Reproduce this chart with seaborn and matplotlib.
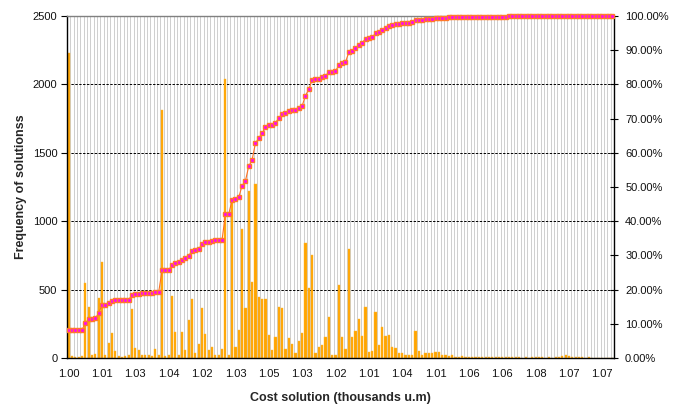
import numpy as np
import pandas as pd
import matplotlib
matplotlib.use("Agg")
import matplotlib.pyplot as plt
import seaborn as sns

# frequency of solutions per cost class
counts = [
    2230, 15, 10, 10, 15, 550, 375, 20, 30, 436,
    704, 20, 112, 185, 54, 15, 10, 15, 20, 358,
    73, 58, 25, 20, 20, 15, 66, 20, 1810, 15,
    20, 453, 193, 20, 193, 58, 278, 429, 40, 102,
    363, 175, 58, 78, 20, 20, 66, 2040, 20, 1150,
    80, 205, 940, 363, 1220, 558, 1272, 448, 429, 429,
    170, 58, 156, 370, 366, 68, 144, 102, 34, 127,
    185, 843, 512, 751, 39, 78, 93, 156, 302, 20,
    20, 531, 156, 66, 794, 151, 197, 287, 161, 375,
    41, 54, 334, 93, 229, 161, 170, 78, 73, 39,
    34, 22, 20, 20, 197, 54, 20, 34, 39, 34,
    42, 42, 25, 20, 15, 20, 10, 10, 15, 8,
    8, 6, 5, 8, 5, 4, 6, 5, 4, 5,
    6, 8, 10, 5, 4, 5, 3, 4, 3, 5,
    4, 6, 4, 3, 4, 3, 4, 6, 15, 25,
    18, 6, 4, 10, 5, 3, 4, 3, 2, 3,
    2, 3, 2, 2,
]

# cumulative percentage (right axis)
cum_pct = [
    8.2, 8.2, 8.2, 8.2, 8.3, 10.1, 11.5, 11.5, 11.6, 13.1,
    15.5, 15.6, 16.0, 16.8, 16.9, 17.0, 17.0, 17.1, 17.1, 18.4,
    18.6, 18.8, 18.9, 18.9, 19.0, 19.0, 19.2, 19.3, 25.6, 25.6,
    25.7, 27.3, 27.9, 28.1, 28.8, 29.1, 29.9, 31.4, 31.6, 32.0,
    33.2, 33.8, 34.0, 34.3, 34.4, 34.4, 34.6, 42.0, 42.1, 46.2,
    46.5, 47.0, 50.4, 51.8, 56.1, 57.9, 62.8, 64.3, 65.8, 67.4,
    68.0, 68.2, 68.8, 70.1, 71.4, 71.6, 72.1, 72.5, 72.6, 73.1,
    73.7, 76.7, 78.6, 81.3, 81.5, 81.7, 82.1, 82.5, 83.6, 83.7,
    83.8, 85.7, 86.3, 86.5, 89.4, 89.9, 90.5, 91.5, 92.1, 93.4,
    93.6, 93.8, 94.9, 95.2, 96.0, 96.5, 97.1, 97.4, 97.6, 97.8,
    97.9, 98.0, 98.0, 98.1, 98.8, 98.9, 98.9, 99.0, 99.1, 99.2,
    99.3, 99.4, 99.5, 99.5, 99.6, 99.6, 99.6, 99.7, 99.7, 99.7,
    99.7, 99.7, 99.7, 99.8, 99.8, 99.8, 99.8, 99.8, 99.8, 99.8,
    99.8, 99.8, 99.9, 99.9, 99.9, 99.9, 99.9, 99.9, 99.9, 99.9,
    99.9, 99.9, 99.9, 99.9, 99.9, 99.9, 99.9, 99.9, 99.95, 100.0,
    100.0, 100.0, 100.0, 100.0, 100.0, 100.0, 100.0, 100.0, 100.0, 100.0,
    100.0, 100.0, 100.0, 100.0,
]

# labels shown on every 10th class
tick_labels = ["1.00", "1.01", "1.03", "1.04", "1.02", "1.03", "1.05", "1.03", "1.02",
               "1.01", "1.04", "1.01", "1.06", "1.06", "1.08", "1.07", "1.07"]

sns.set_style("white")
plt.rcParams['font.family'] = ['Liberation Sans', 'DejaVu Sans']

n = len(counts)
df = pd.DataFrame({"cls": list(range(n)), "count": counts, "cum": cum_pct})

fig = plt.figure(figsize=(6.82, 4.05), dpi=100)
ax = fig.add_axes([0.0982, 0.116, 0.8021, 0.8445])

sns.barplot(data=df, x="cls", y="count", color="#FFA500", saturation=1,
            width=0.65, edgecolor="#FFB733", linewidth=0.3, ax=ax, zorder=2)

ax.set_xlim(-0.5, n - 0.5)
ax.set_ylim(0, 2500)
ax.set_yticks([0, 500, 1000, 1500, 2000, 2500])
ax.set_yticklabels(["0", "500", "1000", "1500", "2000", "2500"])

# category gridlines + dashed value gridlines
ax.set_xticks(np.arange(-0.5, n, 1), minor=True)
ax.grid(which="minor", axis="x", color="#cfcfcf", lw=0.75)
ax.grid(which="major", axis="both", visible=False)
for yv in [500, 1000, 1500, 2000]:
    ax.axhline(yv, color="black", lw=0.7, ls=(0, (2.5, 1.5)), zorder=1)
ax.set_axisbelow(True)

ax.set_xticks(list(range(0, n, 10)))
ax.set_xticklabels(tick_labels)
ax.tick_params(axis="x", which="major", length=0, pad=8, labelsize=8, labelcolor="#111111")
ax.tick_params(axis="x", which="minor", direction="inout", length=4, width=0.7, color="black")
ax.tick_params(axis="y", which="major", direction="out", length=4, width=0.8,
               color="black", pad=3, labelsize=8, labelcolor="#111111", left=True)

for s in ["left", "bottom"]:
    ax.spines[s].set_color("black")
    ax.spines[s].set_linewidth(1.0)
ax.spines["top"].set_color("#808080")
ax.spines["top"].set_linewidth(1.0)
ax.spines["right"].set_visible(False)

ax.set_xlabel("Cost solution (thousands u.m)", fontsize=9, fontweight="bold", labelpad=9)
ax.set_ylabel("Frequency of solutionss", fontsize=9, fontweight="bold", labelpad=4)

ax2 = ax.twinx()
sns.lineplot(data=df, x="cls", y="cum", ax=ax2, color="#FF7020", lw=0.8,
             marker="s", markersize=3.4, markerfacecolor="#FF00FF",
             markeredgecolor="#FF7A2A", markeredgewidth=1.0, clip_on=False, zorder=5)
ax2.set_xlim(-0.5, n - 0.5)
ax2.set_ylim(0, 100)
ax2.set_yticks(list(range(0, 101, 10)))
ax2.set_yticklabels([f"{v:.2f}%" for v in range(0, 101, 10)])
ax2.set_ylabel("")
ax2.set_xlabel("")
ax2.tick_params(axis="y", direction="inout", length=6, width=0.8, color="black",
                pad=5, labelsize=8, labelcolor="#111111", right=True)
for s in ["left", "top", "bottom"]:
    ax2.spines[s].set_visible(False)
ax2.spines["right"].set_color("black")
ax2.spines["right"].set_linewidth(1.0)
ax2.grid(False)

fig.savefig("out.png", dpi=100)
